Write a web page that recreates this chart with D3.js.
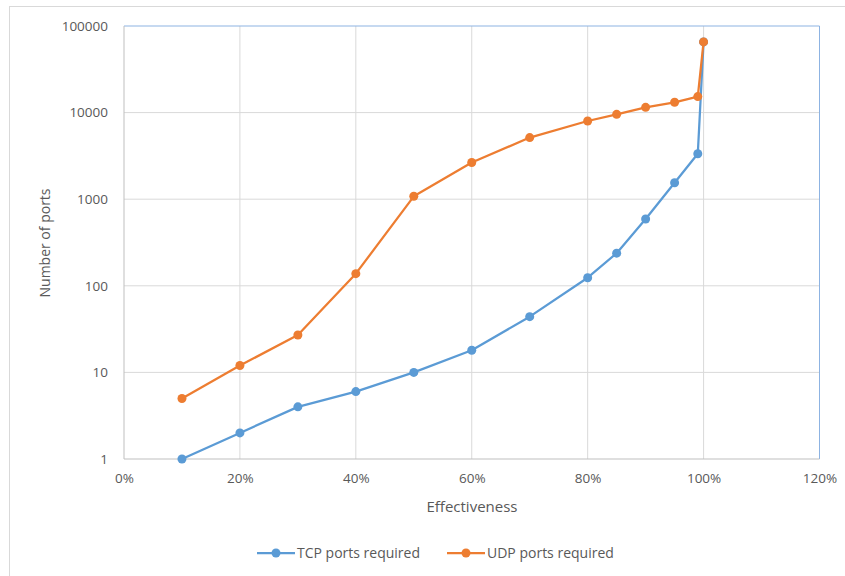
<!DOCTYPE html>
<html>
<head>
<meta charset="utf-8">
<script src="https://cdn.jsdelivr.net/npm/d3@7/dist/d3.min.js"></script>
<style>
  body { margin: 0; background: #fff; }
  text { font-family: "Open Sans", Lato, sans-serif; fill: #595959; }
</style>
</head>
<body>
<div id="chart"></div>
<script>
// effectiveness (fraction) and ports required
const effectiveness = [0.1, 0.2, 0.3, 0.4, 0.5, 0.6, 0.7, 0.8, 0.85, 0.9, 0.95, 0.99, 1.0];
const tcpPorts = [1, 2, 4, 6, 10, 18, 44, 124, 238, 590, 1550, 3350, 65535];
const udpPorts = [5, 12, 27, 138, 1080, 2650, 5150, 8000, 9550, 11500, 13150, 15300, 65535];
const xTicks = [0, 0.2, 0.4, 0.6, 0.8, 1.0, 1.2];
const yTicks = [1, 10, 100, 1000, 10000, 100000];
const seriesNames = ["TCP ports required", "UDP ports required"];
const colors = ["#5B9BD5", "#ED7D31"];

const W = 845, H = 576;
const margin = { top: 26, right: 26, bottom: 117, left: 124 };
const width = 819.5 - margin.left;
const height = 459 - margin.top;

const svg = d3.select("#chart").append("svg")
  .attr("width", W).attr("height", H);

// outer chart border
svg.append("rect")
  .attr("x", 9.5).attr("y", 6.5)
  .attr("width", 860).attr("height", 600)
  .attr("fill", "none").attr("stroke", "#d9d9d9");

const g = svg.append("g").attr("transform", `translate(${margin.left},${margin.top})`);

const x = d3.scaleLinear().domain([0, 1.2]).range([0, width]);
const y = d3.scaleLog().domain([1, 100000]).range([height, 0]);

// gridlines
g.append("g")
  .selectAll("line.vg").data(xTicks.slice(1, -1)).enter()
  .append("line")
  .attr("x1", d => x(d)).attr("x2", d => x(d))
  .attr("y1", 0).attr("y2", height)
  .attr("stroke", "#d9d9d9");
g.append("g")
  .selectAll("line.hg").data(yTicks.slice(1, -1)).enter()
  .append("line")
  .attr("x1", 0).attr("x2", width)
  .attr("y1", d => y(d)).attr("y2", d => y(d))
  .attr("stroke", "#d9d9d9");

// plot frame: blue top/right, gray axes left/bottom
g.append("path")
  .attr("d", `M0,0H${width}V${height}`)
  .attr("fill", "none").attr("stroke", "#8db3e2");
g.append("path")
  .attr("d", `M0,0V${height}H${width}`)
  .attr("fill", "none").attr("stroke", "#bfbfbf");

// axes
const xAxis = g.append("g")
  .attr("transform", `translate(0,${height})`)
  .call(d3.axisBottom(x).tickValues(xTicks).tickFormat(d3.format(".0%")).tickSize(0).tickPadding(14));
const yAxis = g.append("g")
  .call(d3.axisLeft(y).tickValues(yTicks).tickFormat(d3.format("d")).tickSize(0).tickPadding(16));
[xAxis, yAxis].forEach(a => {
  a.select(".domain").remove();
  a.selectAll("text").attr("font-size", "13.5px").attr("fill", "#595959")
    .style("font-family", "'Open Sans', Lato, sans-serif");
});

// axis titles
svg.append("text")
  .attr("x", 472).attr("y", 512)
  .attr("text-anchor", "middle").attr("font-size", "15px")
  .text("Effectiveness");
svg.append("text")
  .attr("transform", "translate(50,243) rotate(-90)")
  .attr("text-anchor", "middle").attr("font-size", "14px")
  .text("Number  of ports");

// series
const line = d3.line().x(d => x(d[0])).y(d => y(d[1]));
const series = [tcpPorts, udpPorts].map(vals => effectiveness.map((e, i) => [e, vals[i]]));

series.forEach((pts, i) => {
  g.append("path")
    .datum(pts)
    .attr("d", line)
    .attr("fill", "none")
    .attr("stroke", colors[i])
    .attr("stroke-width", 2.25)
    .attr("stroke-linejoin", "round");
  g.selectAll(".pt" + i).data(pts).enter()
    .append("circle")
    .attr("class", "pt" + i)
    .attr("cx", d => x(d[0])).attr("cy", d => y(d[1]))
    .attr("r", 4.5)
    .attr("fill", colors[i]);
});

// legend
const legendX = [257, 447];
const legend = svg.append("g");
seriesNames.forEach((name, i) => {
  const lx = legendX[i];
  legend.append("line")
    .attr("x1", lx).attr("x2", lx + 38)
    .attr("y1", 553).attr("y2", 553)
    .attr("stroke", colors[i]).attr("stroke-width", 2.25);
  legend.append("circle")
    .attr("cx", lx + 19).attr("cy", 553).attr("r", 4.5)
    .attr("fill", colors[i]);
  legend.append("text")
    .attr("x", lx + 40).attr("y", 558)
    .attr("font-size", "14px")
    .text(name);
});
</script>
</body>
</html>
